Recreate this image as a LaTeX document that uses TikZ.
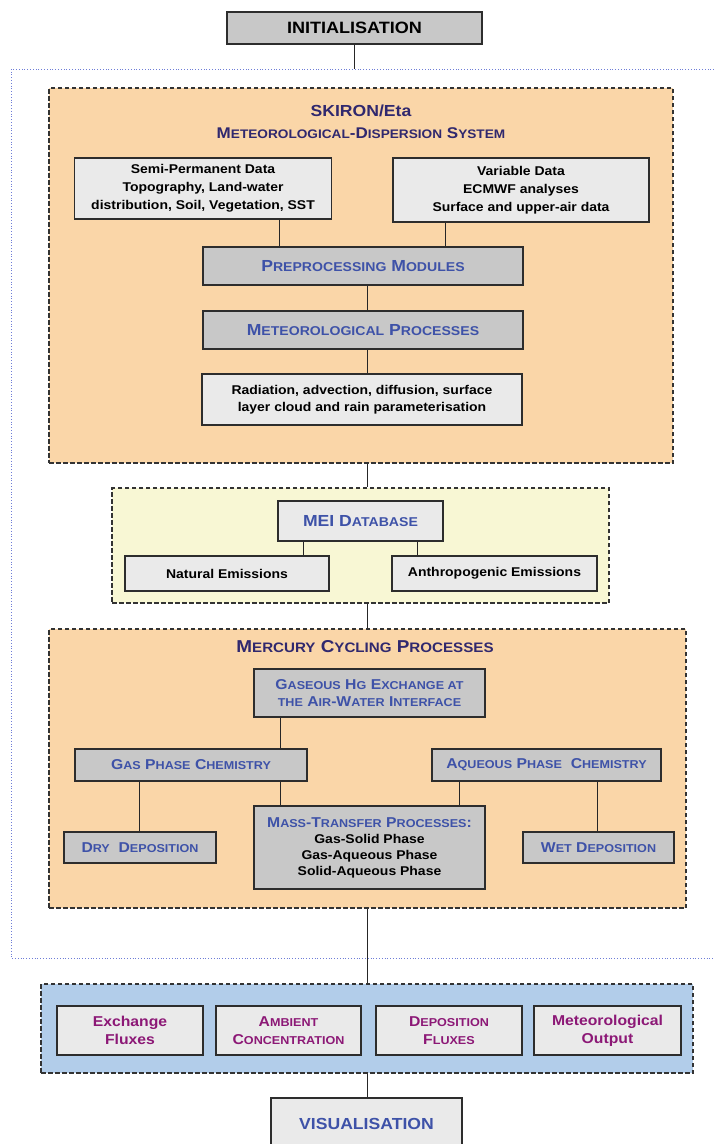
\documentclass[tikz,border=0pt]{standalone}
\usepackage{fontspec}
\setmainfont{Liberation Sans}[FakeStretch=1.1]
\usetikzlibrary{calc}
\definecolor{peach}{RGB}{250,214,168}
\definecolor{yellowbg}{RGB}{248,247,212}
\definecolor{bluebg}{RGB}{178,205,234}
\definecolor{dgray}{RGB}{200,200,200}
\definecolor{lgray}{RGB}{234,234,234}
\definecolor{navy}{RGB}{48,40,110}
\definecolor{btext}{RGB}{62,82,168}
\definecolor{purp}{RGB}{140,24,118}
\definecolor{dotblue}{RGB}{110,125,215}
\definecolor{edge}{RGB}{45,45,45}
\makeatletter
\newcommand\sm[1]{{\dimen@=\f@size pt\dimen@=0.8\dimen@\fontsize{\strip@pt\dimen@}{\f@baselineskip}\selectfont #1}}
\makeatother
\newcommand\fs[2]{\fontsize{#1}{#2}\selectfont\bfseries}
\begin{document}
\begin{tikzpicture}[x=1pt,y=-1pt]
\tikzset{
 box/.style={draw=edge, line width=1.2pt, align=center, inner sep=1pt},
 lbox/.style={box, fill=lgray},
 gbox/.style={box, fill=dgray},
 frame/.style={draw=black!80, line width=1.2pt, dash pattern=on 4.5pt off 2.5pt},
 conn/.style={draw=black!85, line width=1pt},
 dotframe/.style={draw=dotblue, line width=0.8pt, dotted},
 body/.style={font=\fs{12.7}{18}},
 blab/.style={text=btext, font=\fs{16}{18}},
 blabs/.style={text=btext, font=\fs{14.3}{17.5}},
 plab/.style={text=purp, font=\fs{14.3}{18}},
}
\useasboundingbox (0,0) rectangle (714,1144);

% outer dotted frame
\draw[dotframe] (714,69) -- (11,69) -- (11,958) -- (714,958);

% containers
\node[frame, fill=peach, minimum width=624, minimum height=375] (sk) at (361,275.5) {};
\node[frame, fill=yellowbg, minimum width=497, minimum height=115] (mei) at (360.5,545.5) {};
\node[frame, fill=peach, minimum width=637, minimum height=279] (merc) at (367.5,768.5) {};
\node[frame, fill=bluebg, minimum width=652, minimum height=89] (out) at (367,1028.5) {};

% top
\node[gbox, minimum width=255, minimum height=32, font=\fs{16.4}{20}] (init) at (354.5,28) {INITIALISATION};
\coordinate (dtop) at (354.5,69);

% SKIRON
\node[text=navy, font=\fs{16}{18}] (skt) at (361,111) {SKIRON/Eta};
\node[text=navy, font=\fs{15.5}{18}] (sks) at (361,133) {M\sm{ETEOROLOGICAL}-D\sm{ISPERSION} S\sm{YSTEM}};
\node[lbox, body, minimum width=257, minimum height=61] (semi) at (203,188.5) {Semi-Permanent Data\\Topography, Land-water\\distribution, Soil, Vegetation, SST};
\node[lbox, body, minimum width=256, minimum height=64] (var) at (521,190) {Variable Data\\ECMWF analyses\\Surface and upper-air data};
\node[gbox, blab, minimum width=320, minimum height=38] (pre) at (363,266) {P\sm{REPROCESSING} M\sm{ODULES}};
\node[gbox, blab, minimum width=320, minimum height=38] (met) at (363,330) {M\sm{ETEOROLOGICAL} P\sm{ROCESSES}};
\node[lbox, font=\fs{12.7}{17}, minimum width=320, minimum height=51] (rad) at (362,399.5) {Radiation, advection, diffusion, surface\\layer cloud and rain parameterisation};

% MEI
\node[lbox, blab, minimum width=165, minimum height=40] (meidb) at (360.5,521) {MEI D\sm{ATABASE}};
\node[lbox, font=\fs{12.7}{16}, minimum width=204, minimum height=35] (nat) at (227,573.5) {Natural Emissions};
\node[lbox, font=\fs{12.7}{16}, minimum width=205, minimum height=35] (anth) at (494.5,573.5) {Anthropogenic Emissions};

% Mercury
\node[text=navy, font=\fs{17.2}{20}] (mct) at (365,647) {M\sm{ERCURY} C\sm{YCLING} P\sm{ROCESSES}};
\node[gbox, blabs, minimum width=231, minimum height=48] (ghg) at (369.5,693) {G\sm{ASEOUS} H\sm{G} E\sm{XCHANGE AT}\\\sm{THE} A\sm{IR}-W\sm{ATER} I\sm{NTERFACE}};
\node[gbox, blabs, minimum width=232, minimum height=32] (gas) at (191,765) {G\sm{AS} P\sm{HASE} C\sm{HEMISTRY}};
\node[gbox, blabs, minimum width=229, minimum height=32] (aq) at (546.5,765) {A\sm{QUEOUS} P\sm{HASE}\ \ C\sm{HEMISTRY}};
\node[gbox, blabs, minimum width=152, minimum height=31] (dry) at (140,847.5) {D\sm{RY}\ \ D\sm{EPOSITION}};
\node[gbox, blabs, minimum width=151, minimum height=31] (wet) at (598.5,847.5) {W\sm{ET} D\sm{EPOSITION}};
\node[gbox, font=\fs{12.7}{16}, minimum width=231, minimum height=83] (mass) at (369.5,847.5) {\textcolor{btext}{\fontsize{14.3}{16}\selectfont M\sm{ASS}-T\sm{RANSFER} P\sm{ROCESSES}:}\\Gas-Solid Phase\\Gas-Aqueous Phase\\Solid-Aqueous Phase};

% outputs
\node[lbox, plab, minimum width=146, minimum height=49] (exf) at (130,1030.5) {Exchange\\Fluxes};
\node[lbox, plab, minimum width=145, minimum height=49] (amb) at (288.5,1030.5) {A\sm{MBIENT}\\C\sm{ONCENTRATION}};
\node[lbox, plab, minimum width=146, minimum height=49] (depf) at (449,1030.5) {D\sm{EPOSITION}\\F\sm{LUXES}};
\node[lbox, plab, minimum width=147, minimum height=49] (mout) at (607.5,1030.5) {Meteorological\\Output};
\node[lbox, blab, minimum width=191, minimum height=52] (vis) at (366.5,1124) {VISUALISATION};

% connector x positions
\coordinate (xs) at (367,0);
\coordinate (xa) at (279,0);
\coordinate (xb) at (445,0);
\coordinate (xc) at (303,0);
\coordinate (xd) at (417,0);
\coordinate (xe) at (280,0);
\coordinate (xf) at (139,0);
\coordinate (xg) at (459,0);
\coordinate (xh) at (597,0);

\draw[conn] (init.south) -- (dtop);
\draw[conn] (semi.south -| xa) -- (pre.north -| xa);
\draw[conn] (var.south -| xb) -- (pre.north -| xb);
\draw[conn] (pre.south -| xs) -- (met.north -| xs);
\draw[conn] (met.south -| xs) -- (rad.north -| xs);
\draw[conn] (sk.south -| xs) -- (mei.north -| xs);
\draw[conn] (meidb.south -| xc) -- (nat.north -| xc);
\draw[conn] (meidb.south -| xd) -- (anth.north -| xd);
\draw[conn] (mei.south -| xs) -- (merc.north -| xs);
\draw[conn] (ghg.south -| xe) -- (gas.north -| xe);
\draw[conn] (gas.south -| xf) -- (dry.north -| xf);
\draw[conn] (gas.south -| xe) -- (mass.north -| xe);
\draw[conn] (aq.south -| xg) -- (mass.north -| xg);
\draw[conn] (aq.south -| xh) -- (wet.north -| xh);
\draw[conn] (merc.south -| xs) -- (out.north -| xs);
\draw[conn] (out.south -| xs) -- (vis.north -| xs);
\end{tikzpicture}
\end{document}
